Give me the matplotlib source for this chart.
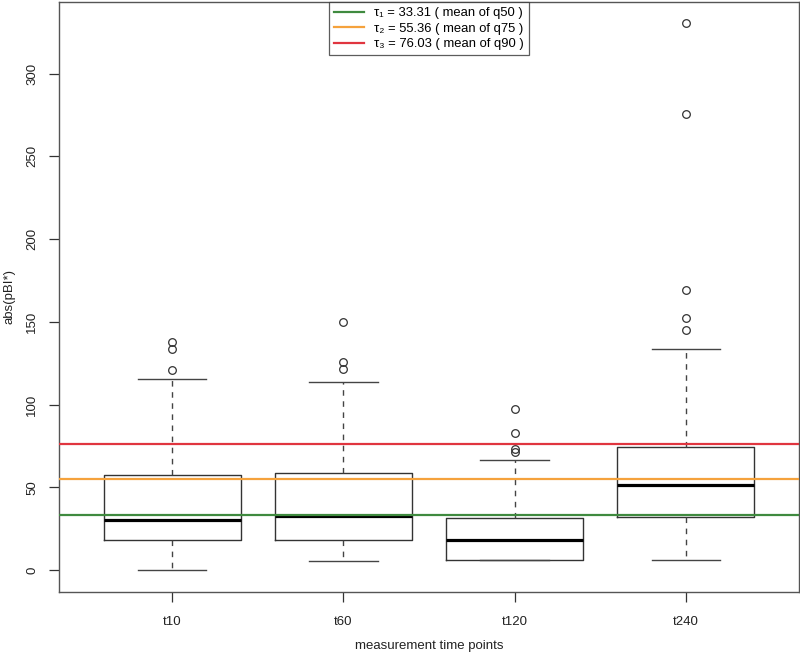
import matplotlib
matplotlib.use("Agg")
import matplotlib.pyplot as plt

plt.rcParams['font.family'] = ['Liberation Sans', 'DejaVu Sans']

# box statistics
groups = ['t10', 't60', 't120', 't240']
whislo = [0.0, 5.7, 5.9, 5.9]
q1 = [18.0, 18.0, 5.9, 32.1]
med = [30.3, 32.7, 18.2, 51.7]
q3 = [57.3, 58.7, 31.7, 74.4]
whishi = [115.7, 113.9, 66.5, 133.4]
fliers = [
    [121.2, 133.8, 138.0],
    [121.7, 125.7, 149.9],
    [71.4, 73.4, 82.8, 97.2],
    [145.3, 152.6, 169.0, 275.8, 330.6],
]

# thresholds
tau_vals = [33.31, 55.36, 76.03]
tau_names = ['τ₁', 'τ₂', 'τ₃']
tau_q = ['q50', 'q75', 'q90']
tau_colors = ['#3f8a3f', '#f5a23c', '#e0353f']

stats = []
for i, g in enumerate(groups):
    stats.append(dict(label=g, whislo=whislo[i], q1=q1[i], med=med[i],
                      q3=q3[i], whishi=whishi[i], fliers=fliers[i]))

fig = plt.figure(figsize=(8.0, 6.53), dpi=100)
ax = fig.add_axes([59/800, 61/653, 740/800, 590/653])

ax.bxp(stats, positions=[1, 2, 3, 4], widths=0.8, showfliers=True,
       boxprops=dict(color='#333333', linewidth=1.0),
       medianprops=dict(color='black', linewidth=2.3),
       whiskerprops=dict(color='#444444', linewidth=1.0, linestyle=(0, (4, 4))),
       capprops=dict(color='#444444', linewidth=1.0),
       capwidths=0.4,
       flierprops=dict(marker='o', markerfacecolor='none', markeredgecolor='#333333',
                       markersize=5.5, markeredgewidth=0.9, linestyle='none'))

for v, n, q, c in zip(tau_vals, tau_names, tau_q, tau_colors):
    ax.axhline(v, color=c, linewidth=1.6,
               label=f'{n} = {v:.2f} ( mean of {q} )', zorder=3)

ax.set_xlim(0.34, 4.66)
ax.set_ylim(-13.2, 343.2)
ax.set_yticks([0, 50, 100, 150, 200, 250, 300])
ax.set_xticks([1, 2, 3, 4])
ax.set_xticklabels(groups)
ax.tick_params(axis='both', direction='out', length=7, width=0.9, colors='#333333',
               labelsize=9.5, labelcolor='#222222')
ax.tick_params(axis='x', pad=10)
ax.tick_params(axis='y', pad=8)
for lab in ax.get_yticklabels():
    lab.set_rotation(90)
    lab.set_va('center')
for s in ax.spines.values():
    s.set_color('#555555')
    s.set_linewidth(1.0)

ax.set_xlabel('measurement time points', fontsize=9.5, color='#222222', labelpad=9)
ax.set_ylabel('abs(pBI*)', fontsize=9.5, color='#222222', labelpad=8)

leg = ax.legend(loc='upper center', borderaxespad=0, fontsize=9.4, frameon=True,
                fancybox=False, edgecolor='#333333', handlelength=2.3,
                labelspacing=0.25, borderpad=0.4, handletextpad=0.8)
leg.get_frame().set_linewidth(0.9)

fig.savefig('out.png', dpi=100)
